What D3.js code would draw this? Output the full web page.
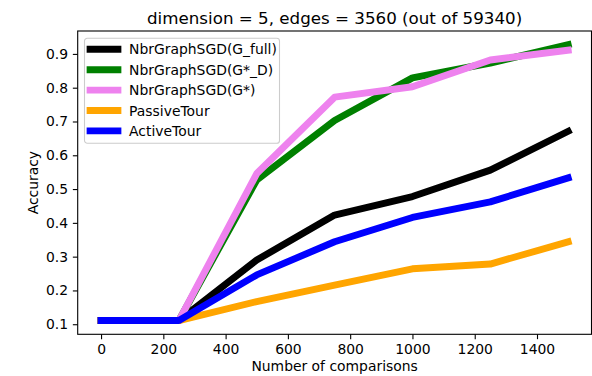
<!DOCTYPE html>
<html>
<head>
<meta charset="utf-8">
<script src="https://cdn.jsdelivr.net/npm/d3@7"></script>
<style>
  body { margin: 0; background: #fff; }
  svg { display: block; font-family: "DejaVu Sans", sans-serif; }
  .axis path, .axis line { stroke: #000; stroke-width: 1.1; }
  .axis text { font-size: 13.9px; fill: #000; font-family: "DejaVu Sans", sans-serif; }
</style>
</head>
<body>
<div class="chart"></div>
<script>
// DATA ------------------------------
const comparisons = [0, 250, 500, 750, 1000, 1250, 1500];
const gFull   = [0.111, 0.111, 0.290, 0.423, 0.478, 0.556, 0.671];
const gStarD  = [0.111, 0.111, 0.527, 0.703, 0.829, 0.873, 0.927];
const gStar   = [0.111, 0.111, 0.546, 0.772, 0.803, 0.882, 0.911];
const passive = [0.111, 0.111, 0.167, 0.216, 0.264, 0.278, 0.344];
const active  = [0.111, 0.111, 0.246, 0.344, 0.416, 0.462, 0.533];

const seriesNames = ["NbrGraphSGD(G_full)", "NbrGraphSGD(G*_D)", "NbrGraphSGD(G*)", "PassiveTour", "ActiveTour"];
const seriesColors = ["#000000", "#008000", "#ee82ee", "#ffa500", "#0000ff"];
const seriesValues = [gFull, gStarD, gStar, passive, active];

const xTicks = [0, 200, 400, 600, 800, 1000, 1200, 1400];
const yTicks = [0.1, 0.2, 0.3, 0.4, 0.5, 0.6, 0.7, 0.8, 0.9];

// CHART INIT ------------------------------
var W = 592, H = 376;
var margin = {top: 31, right: 0.5, bottom: 41.7, left: 77.7};
var width = W - margin.left - margin.right,
    height = H - margin.top - margin.bottom;

const root = d3.select(".chart").append("svg")
    .attr("width", W)
    .attr("height", H);

const svg = root.append("g")
    .attr("transform", "translate(" + margin.left + "," + margin.top + ")");

// matplotlib-like 5% margins
function padded(ext) {
    const d = (ext[1] - ext[0]) * 0.05;
    return [ext[0] - d, ext[1] + d];
}
const allY = seriesValues.flat();

const xScale = d3.scaleLinear()
    .domain(padded(d3.extent(comparisons)))
    .range([0, width]);

const yScale = d3.scaleLinear()
    .domain(padded(d3.extent(allY)))
    .range([height, 0]);

// lines
const line = d3.line()
    .x((d, i) => xScale(comparisons[i]))
    .y(d => yScale(d));

svg.append("defs").append("clipPath").attr("id", "clip")
  .append("rect").attr("width", width).attr("height", height);

svg.append("g").attr("clip-path", "url(#clip)")
  .selectAll(".series")
  .data(seriesValues)
  .enter()
  .append("path")
    .attr("class", "series")
    .attr("d", d => line(d))
    .attr("fill", "none")
    .attr("stroke", (d, i) => seriesColors[i])
    .attr("stroke-width", 6.94)
    .attr("stroke-linejoin", "round")
    .attr("stroke-linecap", "square");

// axes
svg.append("g")
    .attr("class", "axis y-axis")
    .call(d3.axisLeft(yScale).tickValues(yTicks).tickFormat(d3.format(".1f"))
        .tickSize(4.86).tickPadding(4.86))
    .call(g => g.select(".domain").remove());

svg.append("g")
    .attr("class", "axis x-axis")
    .attr("transform", "translate(0," + height + ")")
    .call(d3.axisBottom(xScale).tickValues(xTicks).tickFormat(d3.format("d"))
        .tickSize(4.86).tickPadding(4.86))
    .call(g => g.select(".domain").remove());

// frame
svg.append("rect")
    .attr("width", width)
    .attr("height", height)
    .attr("fill", "none")
    .attr("stroke", "#000")
    .attr("stroke-width", 1.1);

// titles
svg.append("text")
    .attr("x", width / 2)
    .attr("y", -7)
    .attr("text-anchor", "middle")
    .attr("font-size", "16.7px")
    .text("dimension = 5, edges = 3560 (out of 59340)");

svg.append("text")
    .attr("x", width / 2)
    .attr("y", height + 36.5)
    .attr("text-anchor", "middle")
    .attr("font-size", "13.9px")
    .text("Number of comparisons");

svg.append("text")
    .attr("transform", "translate(" + (-40) + "," + (height / 2) + ") rotate(-90)")
    .attr("text-anchor", "middle")
    .attr("font-size", "13.9px")
    .text("Accuracy");

// legend
const legend = svg.append("g").attr("transform", "translate(6.8,7.3)");
legend.append("rect")
    .attr("width", 195)
    .attr("height", 105)
    .attr("rx", 2.8)
    .attr("fill", "#fff")
    .attr("fill-opacity", 0.8)
    .attr("stroke", "#cccccc")
    .attr("stroke-width", 1.1);

const items = legend.selectAll(".item")
    .data(seriesNames)
    .enter()
    .append("g")
    .attr("class", "item")
    .attr("transform", (d, i) => "translate(0," + (11 + i * 20.4) + ")");

items.append("line")
    .attr("x1", 5.6).attr("x2", 33.4)
    .attr("stroke", (d, i) => seriesColors[i])
    .attr("stroke-width", 6.94)
    .attr("stroke-linecap", "square");

items.append("text")
    .attr("x", 44.6)
    .attr("dy", "0.36em")
    .attr("font-size", "13.9px")
    .text(d => d);
</script>
</body>
</html>
